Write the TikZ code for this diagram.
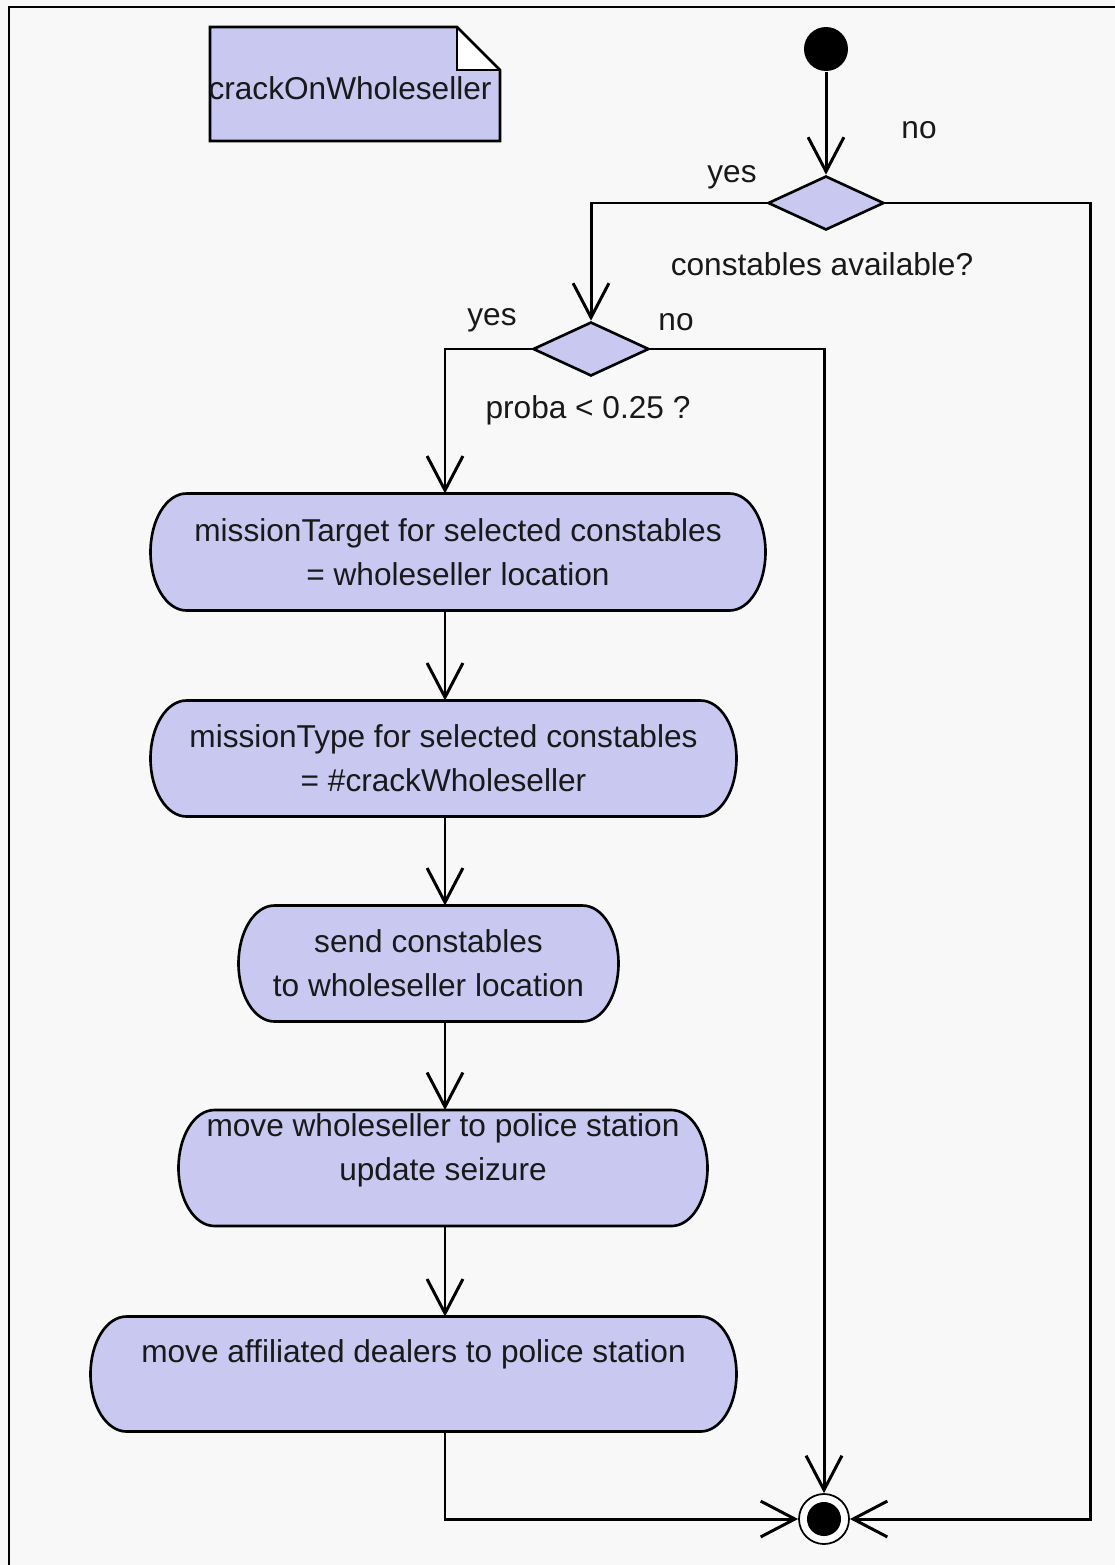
\documentclass[tikz,border=0pt]{standalone}
\usepackage{fontspec}
\setmainfont{Liberation Sans}
\usetikzlibrary{arrows.meta,shapes.geometric,calc,backgrounds}
\newdimen\pxu \pxu=0.02cm
\definecolor{lav}{RGB}{200,200,240}
\definecolor{bg}{RGB}{248,248,248}
\definecolor{ink}{RGB}{25,25,25}
% capsule outline with half-elliptic ends behind an action node
\newcommand\actionshape[1]{%
  \filldraw[fill=lav, line width=1.5pt]
    ([xshift=36\pxu]#1.north west) -- ([xshift=-36\pxu]#1.north east)
    .. controls ([xshift=-16\pxu]#1.north east) and ($(#1.east)!0.5523!(#1.north east)$) .. (#1.east)
    .. controls ($(#1.east)!0.5523!(#1.south east)$) and ([xshift=-16\pxu]#1.south east) .. ([xshift=-36\pxu]#1.south east)
    -- ([xshift=36\pxu]#1.south west)
    .. controls ([xshift=16\pxu]#1.south west) and ($(#1.west)!0.5523!(#1.south west)$) .. (#1.west)
    .. controls ($(#1.west)!0.5523!(#1.north west)$) and ([xshift=16\pxu]#1.north west) .. ([xshift=36\pxu]#1.north west)
    -- cycle;}
\begin{document}
\begin{tikzpicture}[x=0.02cm,y=-0.02cm,
  font=\fontsize{18}{25}\selectfont,
  every path/.style={line width=1.7pt},
  flow/.style={line width=1.7pt, -{Straight Barb[length=19.5pt,width=20.4pt]}},
  act/.style={rectangle, inner sep=0pt, align=center, text=ink},
  dec/.style={diamond, draw, fill=lav, inner sep=0pt, line width=1.5pt,
              minimum width=116\pxu, minimum height=54\pxu},
  lbl/.style={text=ink, inner sep=1pt},
  actlabel/.style={align=center, text=ink, inner sep=0pt}]
\useasboundingbox (0,0) rectangle (1115,1565);
\begin{pgfonlayer}{background}
\fill[bg] (0,0) rectangle (1115,1565);
\end{pgfonlayer}
\begin{scope}[line width=1.7pt]
% frame
\draw (1125,7) -- (9,7) -- (9,1575);

% activity name note with folded corner
\fill[lav] (210,27) -- (457,27) -- (500,70) -- (500,141) -- (210,141) -- cycle;
\fill[white] (457,27) -- (457,70) -- (500,70) -- cycle;
\draw[line width=0.6pt] (457,27) -- (457,70) -- (500,70);
\draw[line width=1.5pt] (210,27) -- (457,27) -- (500,70) -- (500,141) -- (210,141) -- cycle;
\node[text=ink, inner sep=0pt] (note) at (350,88) {crackOnWholeseller};

% initial and final states
\node[circle, fill=black, minimum size=44\pxu, inner sep=0pt] (start) at (826,49) {};
\node[circle, draw, fill=white, minimum size=50\pxu, inner sep=0pt, line width=1pt] (end) at (824,1519) {};
\fill[black] (end.center) circle[radius=17\pxu];

% decisions
\node[dec] (d1) at (826,203) {};
\node[dec] (d2) at (591,349) {};

% actions
\node[act, minimum width=612\pxu, minimum height=114\pxu] (a1) at (458,552)
  {missionTarget for selected constables\\= wholeseller location};
\node[act, minimum width=583\pxu, minimum height=113\pxu] (a2) at (443.5,758.5)
  {missionType for selected constables\\= \#crackWholeseller};
\node[act, minimum width=377\pxu, minimum height=113\pxu] (a3) at (428.5,963.5)
  {send constables\\to wholeseller location};
\node[act, minimum width=526\pxu, minimum height=113\pxu,
  label={[actlabel, yshift=18\pxu]center:{move wholeseller to police station\\update seizure}}]
  (a4) at (443,1168) {};
\node[act, minimum width=643\pxu, minimum height=112\pxu,
  label={[actlabel, yshift=20\pxu]center:{move affiliated dealers to police station}}]
  (a5) at (413.5,1374) {};
\begin{pgfonlayer}{background}
\actionshape{a1}
\actionshape{a2}
\actionshape{a3}
\actionshape{a4}
\actionshape{a5}
\end{pgfonlayer}

% guard and condition texts
\node[lbl] (no1) at (919,130) {no};
\node[lbl] (yes1) at (732,177) {yes};
\node[lbl] (q1) at (822,264) {constables available?};
\node[lbl] (yes2) at (492,320) {yes};
\node[lbl] (no2) at (676,322) {no};
\node[lbl] (q2) at (588,410) {proba < 0.25 ?};

% helper coordinates for the main spine and the right-hand return
\coordinate (sp) at (445,0);
\coordinate (rx) at (1090,0);

% control flow
\draw[flow] (start) -- (d1);
\draw[flow] (d1.west) -| (d2.north);
\draw[flow] (d1.east) -- (d1.east -| rx) |- (end);
\draw[flow] (d2.west) -| (a1.north -| sp);
\draw[flow] (d2.east) -| (end);
\draw[flow] (a1.south -| sp) -- (a2.north -| sp);
\draw[flow] (a2.south -| sp) -- (a3.north -| sp);
\draw[flow] (a3.south -| sp) -- (a4.north -| sp);
\draw[flow] (a4.south -| sp) -- (a5.north -| sp);
\draw[flow] (a5.south -| sp) |- (end);
\end{scope}
\end{tikzpicture}
\end{document}
